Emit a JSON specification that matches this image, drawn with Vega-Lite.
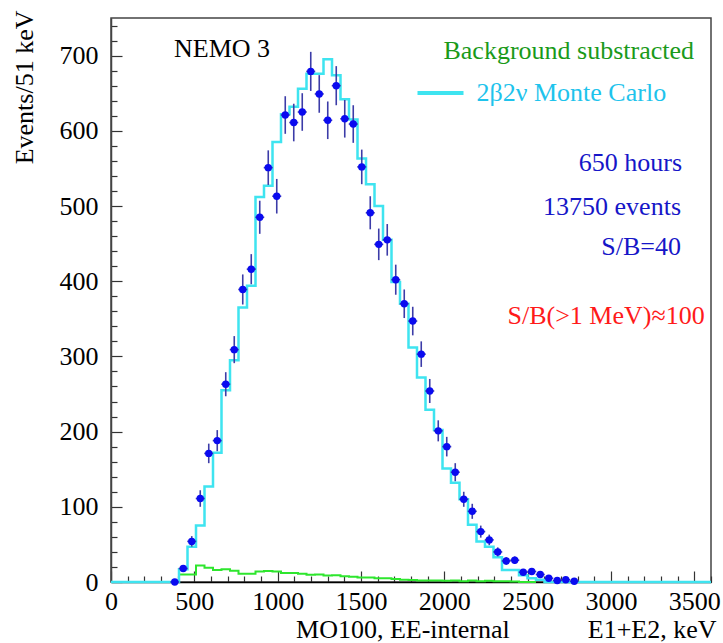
{
  "$schema": "https://vega.github.io/schema/vega-lite/v6.json",
  "width": 600,
  "height": 564,
  "autosize": {"type": "none"},
  "padding": {"left": 111, "top": 18, "right": 12, "bottom": 61},
  "background": "white",
  "config": {
    "font": "Liberation Serif",
    "view": {"stroke": "#444", "strokeWidth": 1.5},
    "axis": {"grid": false}
  },
  "datasets": {
    "mc": [
      {"e": 0, "v": 0}, {"e": 408, "v": 17}, {"e": 459, "v": 47}, {"e": 510, "v": 75}, {"e": 561, "v": 127},
      {"e": 612, "v": 172}, {"e": 663, "v": 255}, {"e": 714, "v": 295}, {"e": 765, "v": 365}, {"e": 816, "v": 394},
      {"e": 867, "v": 512}, {"e": 918, "v": 527}, {"e": 969, "v": 585}, {"e": 1020, "v": 622}, {"e": 1071, "v": 632},
      {"e": 1122, "v": 656}, {"e": 1173, "v": 676}, {"e": 1224, "v": 676}, {"e": 1275, "v": 695}, {"e": 1326, "v": 674},
      {"e": 1377, "v": 642}, {"e": 1428, "v": 615}, {"e": 1479, "v": 563}, {"e": 1530, "v": 529}, {"e": 1581, "v": 500},
      {"e": 1632, "v": 455}, {"e": 1683, "v": 399}, {"e": 1734, "v": 370}, {"e": 1785, "v": 312}, {"e": 1836, "v": 272},
      {"e": 1887, "v": 229}, {"e": 1938, "v": 202}, {"e": 1989, "v": 151}, {"e": 2040, "v": 132}, {"e": 2091, "v": 110},
      {"e": 2142, "v": 76}, {"e": 2193, "v": 54}, {"e": 2244, "v": 47}, {"e": 2295, "v": 33}, {"e": 2346, "v": 16},
      {"e": 2397, "v": 16}, {"e": 2448, "v": 9}, {"e": 2499, "v": 5}, {"e": 2550, "v": 3}, {"e": 2601, "v": 0},
      {"e": 3600, "v": 0}
    ],
    "bg": [
      {"e": 357, "v": 0}, {"e": 408, "v": 10}, {"e": 459, "v": 10}, {"e": 510, "v": 22}, {"e": 561, "v": 19},
      {"e": 612, "v": 16}, {"e": 663, "v": 17}, {"e": 714, "v": 15}, {"e": 765, "v": 11}, {"e": 816, "v": 11},
      {"e": 867, "v": 14}, {"e": 918, "v": 14.5}, {"e": 969, "v": 14}, {"e": 1020, "v": 12}, {"e": 1071, "v": 12},
      {"e": 1122, "v": 11}, {"e": 1173, "v": 9.5}, {"e": 1224, "v": 10}, {"e": 1275, "v": 8.5}, {"e": 1326, "v": 9},
      {"e": 1377, "v": 7.5}, {"e": 1428, "v": 7}, {"e": 1479, "v": 6}, {"e": 1530, "v": 6}, {"e": 1581, "v": 5},
      {"e": 1632, "v": 5}, {"e": 1683, "v": 4}, {"e": 1734, "v": 3}, {"e": 1785, "v": 2.5}, {"e": 1836, "v": 2},
      {"e": 1887, "v": 2}, {"e": 1938, "v": 2}, {"e": 1989, "v": 1.5}, {"e": 2040, "v": 2}, {"e": 2091, "v": 1},
      {"e": 2142, "v": 2}, {"e": 2193, "v": 1}, {"e": 2244, "v": 1.5}, {"e": 2295, "v": 1}, {"e": 2346, "v": 1},
      {"e": 2397, "v": 0.5}, {"e": 2448, "v": 0}, {"e": 2550, "v": 0}
    ],
    "pts": [
      {"c": 382.5, "n": 0, "err": 0}, {"c": 433.5, "n": 18, "err": 4}, {"c": 484.5, "n": 54, "err": 7},
      {"c": 535.5, "n": 111, "err": 11}, {"c": 586.5, "n": 171, "err": 13}, {"c": 637.5, "n": 188, "err": 14},
      {"c": 688.5, "n": 263, "err": 16}, {"c": 739.5, "n": 309, "err": 18}, {"c": 790.5, "n": 389, "err": 20},
      {"c": 841.5, "n": 416, "err": 20}, {"c": 892.5, "n": 485, "err": 22}, {"c": 943.5, "n": 551, "err": 23},
      {"c": 994.5, "n": 513, "err": 23}, {"c": 1045.5, "n": 621, "err": 25}, {"c": 1096.5, "n": 611, "err": 25},
      {"c": 1147.5, "n": 625, "err": 25}, {"c": 1198.5, "n": 679, "err": 26}, {"c": 1249.5, "n": 649, "err": 25},
      {"c": 1300.5, "n": 614, "err": 25}, {"c": 1351.5, "n": 660, "err": 26}, {"c": 1402.5, "n": 616, "err": 25},
      {"c": 1453.5, "n": 609, "err": 25}, {"c": 1504.5, "n": 552, "err": 23}, {"c": 1555.5, "n": 491, "err": 22},
      {"c": 1606.5, "n": 449, "err": 21}, {"c": 1657.5, "n": 455, "err": 21}, {"c": 1708.5, "n": 402, "err": 20},
      {"c": 1759.5, "n": 370, "err": 19}, {"c": 1810.5, "n": 347, "err": 19}, {"c": 1861.5, "n": 303, "err": 17},
      {"c": 1912.5, "n": 254, "err": 16}, {"c": 1963.5, "n": 201, "err": 14}, {"c": 2014.5, "n": 180, "err": 13},
      {"c": 2065.5, "n": 146, "err": 12}, {"c": 2116.5, "n": 110, "err": 10}, {"c": 2167.5, "n": 94, "err": 10},
      {"c": 2218.5, "n": 67, "err": 8}, {"c": 2269.5, "n": 56, "err": 7}, {"c": 2320.5, "n": 40, "err": 6},
      {"c": 2371.5, "n": 28, "err": 5}, {"c": 2422.5, "n": 29, "err": 5}, {"c": 2473.5, "n": 13, "err": 4},
      {"c": 2524.5, "n": 14, "err": 4}, {"c": 2575.5, "n": 10, "err": 3}, {"c": 2626.5, "n": 5, "err": 2},
      {"c": 2677.5, "n": 2, "err": 1}, {"c": 2728.5, "n": 3, "err": 2}, {"c": 2779.5, "n": 1, "err": 1}
    ]
  },
  "layer": [
    {
      "data": {"name": "bg"},
      "mark": {"type": "line", "interpolate": "step-after", "color": "#2ee62e", "strokeWidth": 2},
      "encoding": {
        "x": {"field": "e", "type": "quantitative", "scale": {"domain": [0, 3600], "nice": false, "zero": false},
          "axis": {
            "values": [0,100,200,300,400,500,600,700,800,900,1000,1100,1200,1300,1400,1500,1600,1700,1800,1900,2000,2100,2200,2300,2400,2500,2600,2700,2800,2900,3000,3100,3200,3300,3400,3500,3600],
            "tickCount": 200,
            "format": "d",
            "labelExpr": "datum.value % 500 === 0 ? datum.label : ''",
            "tickSize": {"condition": {"test": "datum.value % 500 === 0", "value": -11}, "value": -6},
            "tickColor": "#333", "tickWidth": 1.2,
            "domainColor": "#000", "domainWidth": 1.5,
            "labelFont": "Liberation Serif", "labelFontSize": 26, "labelColor": "#000",
            "labelPadding": 17, "labelOverlap": false, "labelFlush": false, "labelBound": false,
            "title": "MO100, EE-internal\u00a0\u00a0\u00a0\u00a0\u00a0\u00a0\u00a0\u00a0\u00a0\u00a0\u00a0\u00a0E1+E2, keV",
            "titleFont": "Liberation Serif", "titleFontSize": 26, "titleFontWeight": "normal", "titleColor": "#000",
            "titleX": 605, "titleY": 55, "titleAlign": "right", "titleBaseline": "alphabetic", "titleAngle": 0
          }},
        "y": {"field": "v", "type": "quantitative", "scale": {"domain": [0, 750], "nice": false},
          "axis": {
            "values": [0,20,40,60,80,100,120,140,160,180,200,220,240,260,280,300,320,340,360,380,400,420,440,460,480,500,520,540,560,580,600,620,640,660,680,700,720,740],
            "tickCount": 200,
            "format": "d",
            "labelExpr": "datum.value % 100 === 0 ? datum.label : ''",
            "tickSize": {"condition": {"test": "datum.value % 100 === 0", "value": -11}, "value": -6},
            "tickColor": "#333", "tickWidth": 1.2,
            "domainColor": "#444", "domainWidth": 1.5,
            "labelFont": "Liberation Serif", "labelFontSize": 26, "labelColor": "#000",
            "labelPadding": 24, "labelOverlap": false, "labelFlush": false, "labelBound": false,
            "title": "Events/51 keV",
            "titleFont": "Liberation Serif", "titleFontSize": 26, "titleFontWeight": "normal", "titleColor": "#000",
            "titleX": -79, "titleY": -8, "titleAlign": "right", "titleBaseline": "alphabetic", "titleAngle": 270
          }}
      }
    },
    {
      "data": {"name": "mc"},
      "mark": {"type": "line", "interpolate": "step-after", "strokeWidth": 2.5},
      "encoding": {
        "x": {"field": "e", "type": "quantitative", "scale": {"domain": [0, 3600], "nice": false, "zero": false}},
        "y": {"field": "v", "type": "quantitative", "scale": {"domain": [0, 750], "nice": false}},
        "color": {"datum": "2β2ν Monte Carlo", "scale": {"range": ["#3ee4f0"]},
          "legend": {"orient": "none", "legendX": 304.5, "legendY": 50, "title": null, "padding": 0,
            "symbolType": "stroke", "symbolSize": 2116, "symbolStrokeWidth": 4, "symbolStrokeColor": "#22c8ee",
            "labelFont": "Liberation Serif", "labelFontSize": 26, "labelColor": "#1ec3ec", "labelOffset": 11, "labelLimit": 400}}
      }
    },
    {
      "data": {"name": "pts"},
      "mark": {"type": "errorbar", "color": "#3c3ca8", "thickness": 1.6},
      "encoding": {
        "x": {"field": "c", "type": "quantitative", "title": "MO100, EE-internal\u00a0\u00a0\u00a0\u00a0\u00a0\u00a0\u00a0\u00a0\u00a0\u00a0\u00a0\u00a0E1+E2, keV", "scale": {"domain": [0, 3600], "nice": false, "zero": false}},
        "y": {"field": "n", "type": "quantitative", "title": "Events/51 keV", "scale": {"domain": [0, 750], "nice": false}},
        "yError": {"field": "err"}
      }
    },
    {
      "data": {"name": "pts"},
      "mark": {"type": "tick", "orient": "horizontal", "size": 9, "thickness": 1.6, "color": "#3c3ca8", "opacity": 1},
      "encoding": {
        "x": {"field": "c", "type": "quantitative", "scale": {"domain": [0, 3600], "nice": false, "zero": false}},
        "y": {"field": "n", "type": "quantitative", "scale": {"domain": [0, 750], "nice": false}}
      }
    },
    {
      "data": {"name": "pts"},
      "mark": {"type": "circle", "size": 55, "color": "#0a0af0", "opacity": 1},
      "encoding": {
        "x": {"field": "c", "type": "quantitative", "scale": {"domain": [0, 3600], "nice": false, "zero": false}},
        "y": {"field": "n", "type": "quantitative", "scale": {"domain": [0, 750], "nice": false}}
      }
    },
    {
      "data": {"values": [{}]},
      "mark": {"type": "text", "font": "Liberation Serif", "fontSize": 26, "align": "left", "baseline": "alphabetic", "color": "#000"},
      "encoding": {"x": {"datum": 378}, "y": {"datum": 698}, "text": {"value": "NEMO 3"}}
    },
    {
      "data": {"values": [{}]},
      "mark": {"type": "text", "font": "Liberation Serif", "fontSize": 26, "align": "right", "baseline": "alphabetic", "color": "#1a9a1a"},
      "encoding": {"x": {"datum": 3498}, "y": {"datum": 696}, "text": {"value": "Background substracted"}}
    },
    {
      "data": {"values": [{}]},
      "mark": {"type": "text", "font": "Liberation Serif", "fontSize": 26, "align": "right", "baseline": "alphabetic", "color": "#1616c8"},
      "encoding": {"x": {"datum": 3426}, "y": {"datum": 546.5}, "text": {"value": "650 hours"}}
    },
    {
      "data": {"values": [{}]},
      "mark": {"type": "text", "font": "Liberation Serif", "fontSize": 26, "align": "right", "baseline": "alphabetic", "color": "#1616c8"},
      "encoding": {"x": {"datum": 3420}, "y": {"datum": 488.5}, "text": {"value": "13750 events"}}
    },
    {
      "data": {"values": [{}]},
      "mark": {"type": "text", "font": "Liberation Serif", "fontSize": 26, "align": "right", "baseline": "alphabetic", "color": "#1616c8"},
      "encoding": {"x": {"datum": 3420}, "y": {"datum": 435}, "text": {"value": "S/B=40"}}
    },
    {
      "data": {"values": [{}]},
      "mark": {"type": "text", "font": "Liberation Serif", "fontSize": 26, "align": "right", "baseline": "alphabetic", "color": "#ff1a1a"},
      "encoding": {"x": {"datum": 3562}, "y": {"datum": 343}, "text": {"value": "S/B(>1 MeV)≈100"}}
    }
  ]
}
